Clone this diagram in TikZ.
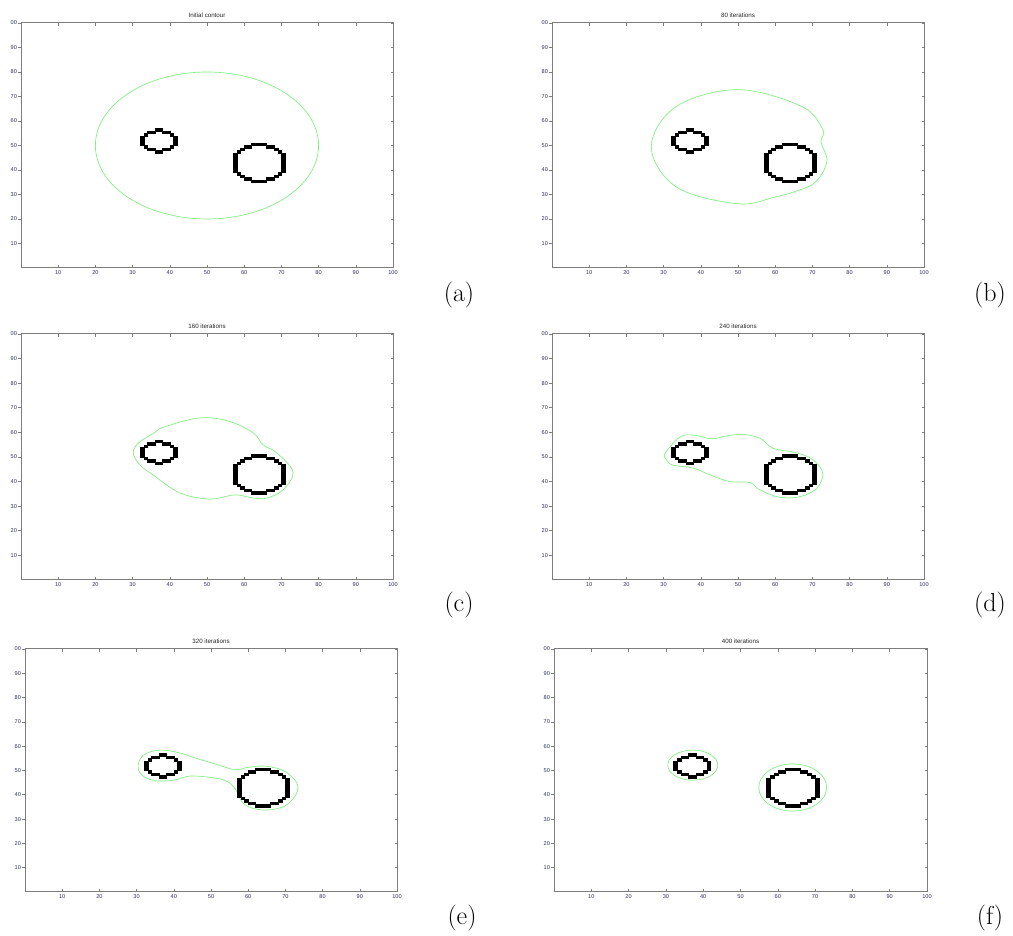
\documentclass[tikz,border=0pt]{standalone}
\usepackage{fontspec}
\newfontfamily\ticfont{Liberation Sans}
\definecolor{contourgreen}{RGB}{125,240,125}
\definecolor{axisgray}{RGB}{125,125,125}
\definecolor{ticklab}{RGB}{45,50,85}
\tikzset{
  axisline/.style={draw=axisgray, line width=1pt},
  tickline/.style={draw=axisgray, line width=0.6pt},
  ticklabel/.style={font=\ticfont\fontsize{5.6}{6}\selectfont, text=ticklab, inner sep=0pt},
  titlelabel/.style={font=\ticfont\fontsize{6.2}{7}\selectfont, text=black!85, inner sep=0pt},
  panellabel/.style={font=\fontsize{26}{30}\selectfont, inner sep=0pt},
  greencontour/.style={draw=contourgreen, line width=0.65pt},
  cellfill/.style={fill=black, draw=black, line width=0.35pt},
}
% set panel transform: x0, ytop, x1, ybot (pixel coords, y downward)
\newcommand\setpanel[4]{%
  \pgfmathsetmacro\pxs{(#3-#1)/100}%
  \pgfmathsetmacro\pys{(#4-#2)/100}%
  \pgfmathsetmacro\pxo{#1}%
  \pgfmathsetmacro\pyo{936-#4}%
  \pgfmathsetmacro\tlx{3/\pxs}%
  \pgfmathsetmacro\tly{3/\pys}%
}
\newcommand\frameaxes[2]{% #1 panel id, #2 title
  \draw[axisline] (0,0) rectangle (100,100);
  \foreach \t in {10,20,...,100}{%
    \draw[tickline] (\t,0) -- (\t,\tly);
    \draw[tickline] (\t,100) -- (\t,100-\tly);
    \draw[tickline] (0,\t) -- (-\tlx,\t);
    \draw[tickline] (100,\t) -- (100-0.7*\tlx,\t);
    \node[ticklabel, anchor=north] (xl-#1-\t) at (\t,-0.8*\tly) {\t};
  }
  \foreach \t in {10,20,...,90}{%
    \node[ticklabel, anchor=east] (yl-#1-\t) at (-1.3*\tlx,\t) {\t};
  }
  \node[ticklabel, anchor=east] (yl-#1-100) at (-1.3*\tlx,100) {00};
  \node[titlelabel, anchor=south] (title-#1) at (50,100+1.7*\tly) {#2};
}
% pixelated rings: cells given as col/row, row 0 at top
\newcommand\ringcells{%
  \foreach \c/\r in {4/0,5/0, 2/1,3/1,6/1,7/1, 1/2,8/2,
      0/3,9/3,0/4,9/4,0/5,9/5,0/6,9/6,
      1/7,8/7, 2/8,3/8,6/8,7/8, 4/9,5/9}{%
    \fill[cellfill] (32+\c,56-\r) rectangle ++(1,1);
  }%
  \foreach \c/\r in {5/0,6/0,7/0,8/0, 3/1,4/1,9/1,10/1, 2/2,11/2, 1/3,12/3,
      0/4,13/4,0/5,13/5,0/6,13/6,0/7,13/7,0/8,13/8,0/9,13/9,0/10,13/10,0/11,13/11,
      1/12,12/12, 2/13,11/13, 3/14,4/14,9/14,10/14, 5/15,6/15,7/15,8/15}{%
    \fill[cellfill] (57+\c,50-\r) rectangle ++(1,1);
  }%
}
\begin{document}
\begin{tikzpicture}[x=1pt,y=1pt]
\useasboundingbox (0,0) rectangle (1013,936);
\fill[white] (0,0) rectangle (1013,936);

% ---------- (a)
\setpanel{21}{23}{393}{268}
\begin{scope}[shift={(\pxo,\pyo)},xscale=\pxs,yscale=\pys]
  \draw[greencontour] (50,50) circle [radius=30];
  \ringcells
  \frameaxes{a}{Initial contour}
\end{scope}
\node[panellabel] (lab-a) at (459,936-295) {(a)};

% ---------- (b)
\setpanel{552}{23}{924}{268}
\begin{scope}[shift={(\pxo,\pyo)},xscale=\pxs,yscale=\pys]
  \draw[greencontour] plot[smooth cycle, tension=0.6] coordinates {
    (50,72.8) (33.5,66) (26.7,49.5) (33.5,33) (50,26.2) (60,29) (65.5,31.3)
    (70.8,35) (73.9,43.5) (72.3,51.5) (72.8,56.5) (67,66)};
  \ringcells
  \frameaxes{b}{80 iterations}
\end{scope}
\node[panellabel] (lab-b) at (990,936-295) {(b)};

% ---------- (c)
\setpanel{21}{334}{393}{580}
\begin{scope}[shift={(\pxo,\pyo)},xscale=\pxs,yscale=\pys]
  \draw[greencontour] plot[smooth cycle, tension=0.6] coordinates {
    (30.2,51.5) (31.5,55.6) (35.6,59.6) (38.5,62.2) (48.1,65.9) (56,64.5)
    (62.4,59.8) (65.1,54.9) (68.8,51.6) (73.1,43.9) (70.4,36.6) (66.1,33.3)
    (62.4,33.3) (57.5,34.6) (50.8,32.9) (42.7,35.4) (35.5,42.7) (32,46.7)};
  \ringcells
  \frameaxes{c}{160 iterations}
\end{scope}
\node[panellabel] (lab-c) at (459,936-605) {(c)};

% ---------- (d)
\setpanel{552}{334}{924}{580}
\begin{scope}[shift={(\pxo,\pyo)},xscale=\pxs,yscale=\pys]
  \draw[greencontour] plot[smooth cycle, tension=0.6] coordinates {
    (30.4,51.5) (34.4,58.1) (38,58.9) (42.9,57.4) (47,58.6) (51.4,59.2)
    (55.9,57.6) (59.5,53.5) (65.8,51.7) (70.2,48.8) (72.8,43.4) (71.2,37.3)
    (66.7,33.9) (61.3,33.6) (55.9,36.6) (53.2,39.6) (47.8,40) (42.5,42.7)
    (37.9,45.5) (32.5,46.7) (30.8,48.8)};
  \ringcells
  \frameaxes{d}{240 iterations}
\end{scope}
\node[panellabel] (lab-d) at (990,936-605) {(d)};

% ---------- (e)
\setpanel{25}{649}{397}{892}
\begin{scope}[shift={(\pxo,\pyo)},xscale=\pxs,yscale=\pys]
  \draw[greencontour] plot[smooth cycle, tension=0.6] coordinates {
    (30.4,52) (32,56.5) (36.3,58.4) (41.7,57.2) (46,55) (51.1,52.7) (56.5,50.3)
    (60,51.3) (64.5,51.8) (70,49.5) (73.4,43.2) (70.5,36) (64.5,33.7) (59,36)
    (56.7,42) (54.5,45.4) (51,46.9) (44.4,47.7) (40,46) (35,45.8) (31.5,48)};
  \ringcells
  \frameaxes{e}{320 iterations}
\end{scope}
\node[panellabel] (lab-e) at (462,936-918) {(e)};

% ---------- (f)
\setpanel{554}{649}{927}{892}
\begin{scope}[shift={(\pxo,\pyo)},xscale=\pxs,yscale=\pys]
  \draw[greencontour] (37.2,52.2) ellipse [x radius=6.7, y radius=6.2];
  \draw[greencontour] (64,43) ellipse [x radius=9.1, y radius=9.7];
  \ringcells
  \frameaxes{f}{400 iterations}
\end{scope}
\node[panellabel] (lab-f) at (990,936-918) {(f)};
\end{tikzpicture}
\end{document}
